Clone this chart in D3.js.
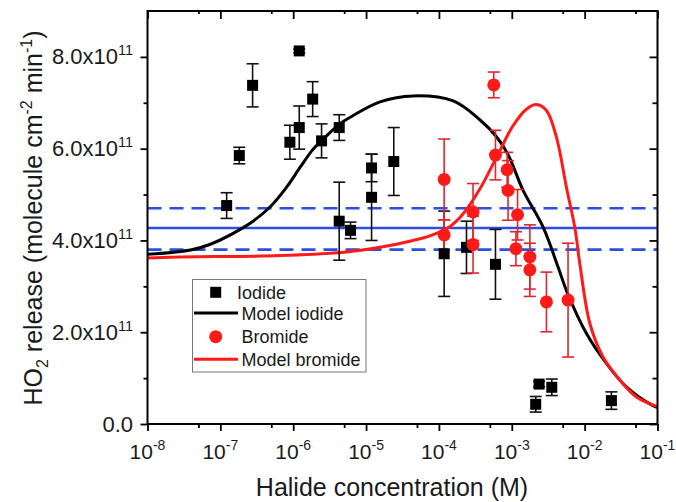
<!DOCTYPE html>
<html>
<head>
<meta charset="utf-8">
<script src="https://cdn.jsdelivr.net/npm/d3@7"></script>
<style>
body { margin:0; background:#ffffff; }
text { font-family:"Liberation Sans", Arial, sans-serif; fill:#1a1a1a; }
</style>
</head>
<body>
<svg id="chart" width="676" height="502"></svg>
<script>

// measured points (HO2 release, molecule cm-2 min-1)
var iodideConc = [1.22e-7, 1.82e-7, 2.77e-7, 1.21e-6, 9.0e-7, 1.21e-6, 1.85e-6, 2.45e-6, 4.28e-6, 4.28e-6, 6.12e-6,
	1.19e-5, 1.19e-5, 2.40e-5, 1.18e-4, 2.39e-4, 5.97e-4, 2.13e-3, 2.37e-3, 3.54e-3, 2.33e-2];
var iodideHO2 = [4.76e11, 5.85e11, 7.38e11, 8.13e11, 6.14e11, 6.46e11, 7.08e11, 6.17e11, 6.46e11, 4.42e11, 4.22e11,
	5.58e11, 4.94e11, 5.72e11, 3.71e11, 3.85e11, 3.48e11, 0.43e11, 0.87e11, 0.80e11, 0.51e11];
var iodideErr = [0.28e11, 0.18e11, 0.47e11, 0.04e11, 0.37e11, 0.47e11, 0.38e11, 0.37e11, 0.28e11, 0.85e11, 0.18e11,
	0.30e11, 0.94e11, 0.74e11, 0.93e11, 0.57e11, 0.76e11, 0.17e11, 0.06e11, 0.18e11, 0.19e11];

var bromideConc = [5.66e-4, 1.18e-4, 1.18e-4, 2.94e-4, 2.94e-4, 5.97e-4, 8.63e-4, 8.89e-4, 1.20e-3, 1.14e-3,
	1.77e-3, 1.77e-3, 2.99e-3, 5.92e-3];
var bromideHO2 = [7.39e11, 5.33e11, 4.12e11, 4.62e11, 3.91e11, 5.86e11, 5.54e11, 5.09e11, 4.56e11, 3.82e11,
	3.64e11, 3.36e11, 2.66e11, 2.70e11];
var bromideErr = [0.28e11, 0.88e11, 0.33e11, 0.62e11, 0.62e11, 0.54e11, 0.38e11, 0.65e11, 0.55e11, 0.37e11,
	0.70e11, 0.58e11, 0.65e11, 1.24e11];

// model curves
var modelIodideConc = [1e-8, 5.25e-8, 2.06e-7, 4.54e-7, 8.11e-7, 1.24e-6, 1.88e-6, 2.87e-6, 4.37e-6, 6.0e-6,
	1.55e-5, 4.43e-5, 1.57e-4, 3.64e-4, 6.17e-4, 8.89e-4, 1.43e-3, 2.69e-3, 4.32e-3, 5.62e-3, 1.06e-2, 1.99e-2,
	3.74e-2, 8.67e-2, 1e-1];
var modelIodideHO2 = [3.70e11, 3.84e11, 4.28e11, 4.69e11, 5.16e11, 5.59e11, 5.99e11, 6.28e11, 6.54e11, 6.68e11,
	7.02e11, 7.15e11, 7.04e11, 6.63e11, 6.26e11, 5.87e11, 5.09e11, 4.29e11, 3.42e11, 2.91e11, 1.97e11, 1.32e11,
	0.81e11, 0.40e11, 0.36e11];
var modelBromideConc = [1e-8, 2.79e-8, 6.57e-7, 5.40e-6, 1.55e-5, 4.43e-5, 7.50e-5, 1.41e-4, 2.15e-4, 3.64e-4, 6.17e-4,
	1.04e-3, 1.59e-3, 2.18e-3, 2.99e-3, 4.10e-3, 5.62e-3, 7.35e-3, 8.57e-3, 1.18e-2, 1.79e-2, 3.03e-2, 5.14e-2, 1e-1];
var modelBromideHO2 = [3.62e11, 3.64e11, 3.67e11, 3.75e11, 3.85e11, 4.00e11, 4.10e11, 4.30e11, 4.58e11, 5.12e11, 5.81e11,
	6.50e11, 6.86e11, 6.96e11, 6.83e11, 6.25e11, 5.16e11, 4.27e11, 3.50e11, 2.19e11, 1.46e11, 0.96e11, 0.59e11, 0.38e11];

// blue reference lines: mean and band
var meanHO2 = 4.27e11;
var bandHO2 = [3.80e11, 4.70e11];

var yMajor = [0, 2e11, 4e11, 6e11, 8e11];
var yMinor = [1e11, 3e11, 5e11, 7e11];
var yLabels = ["0.0", "2.0x10", "4.0x10", "6.0x10", "8.0x10"];
var xExponents = [-8, -7, -6, -5, -4, -3, -2, -1];
var xMinor = [5e-8, 5e-7, 5e-6, 5e-5, 5e-4, 5e-3, 5e-2];

var legendItems = ["Iodide", "Model iodide", "Bromide", "Model bromide"];

var svg = d3.select("#chart");
var pLeft = 147.5, pRight = 657.5, pTop = 11, pBottom = 424;

var x = d3.scaleLog().domain([1e-8, 1e-1]).range([pLeft, pRight]);
var y = d3.scaleLinear().domain([0, 9e11]).range([pBottom, pTop]);
var xMajor = xExponents.map(function(e) { return Math.pow(10, e); });

var BLUE = "#2b4fe0", RED = "#ff1a1a", REDBAR = "#e0262b";

// blue lines
svg.append("line").attr("x1", pLeft).attr("x2", pRight).attr("y1", y(meanHO2)).attr("y2", y(meanHO2))
	.attr("stroke", BLUE).attr("stroke-width", 2.6);
svg.selectAll(".band").data(bandHO2).enter().append("line").attr("class", "band")
	.attr("x1", pLeft).attr("x2", pRight).attr("y1", function(d) { return y(d); }).attr("y2", function(d) { return y(d); })
	.attr("stroke", BLUE).attr("stroke-width", 2.6).attr("stroke-dasharray", "14,8");

// model lines
var line = d3.line().curve(d3.curveCatmullRom.alpha(0.5)).x(function(d) { return x(d[0]); }).y(function(d) { return y(d[1]); });
svg.append("path").attr("d", line(d3.zip(modelIodideConc, modelIodideHO2)))
	.attr("fill", "none").attr("stroke", "#000").attr("stroke-width", 3);
svg.append("path").attr("d", line(d3.zip(modelBromideConc, modelBromideHO2)))
	.attr("fill", "none").attr("stroke", RED).attr("stroke-width", 3);

// error bars
function errorBars(conc, val, err, color) {
	var g = svg.append("g").attr("stroke", color).attr("stroke-width", 1.6);
	conc.forEach(function(c, i) {
		var cx = x(c), y1 = y(val[i] - err[i]), y2 = y(val[i] + err[i]);
		g.append("line").attr("x1", cx).attr("x2", cx).attr("y1", y1).attr("y2", y2);
		g.append("line").attr("x1", cx - 6).attr("x2", cx + 6).attr("y1", y1).attr("y2", y1);
		g.append("line").attr("x1", cx - 6).attr("x2", cx + 6).attr("y1", y2).attr("y2", y2);
	});
}
errorBars(iodideConc, iodideHO2, iodideErr, "#111");
errorBars(bromideConc, bromideHO2, bromideErr, REDBAR);

svg.selectAll(".sq").data(d3.zip(iodideConc, iodideHO2)).enter().append("rect").attr("class", "sq")
	.attr("x", function(d) { return x(d[0]) - 5.5; }).attr("y", function(d) { return y(d[1]) - 5.5; })
	.attr("width", 11).attr("height", 11).attr("fill", "#000");
svg.selectAll(".dot").data(d3.zip(bromideConc, bromideHO2)).enter().append("circle").attr("class", "dot")
	.attr("cx", function(d) { return x(d[0]); }).attr("cy", function(d) { return y(d[1]); })
	.attr("r", 6.5).attr("fill", RED);

// axes (ticks only, labels drawn separately)
function ticks(axis, vals, size, tx, ty) {
	var g = svg.append("g").attr("transform", "translate(" + tx + "," + ty + ")")
		.call(axis.tickValues(vals).tickSize(size).tickFormat(""));
	g.select(".domain").remove();
	g.selectAll(".tick line").attr("stroke", "#000").attr("stroke-width", 1.8);
	return g;
}
ticks(d3.axisLeft(y), yMajor, 7, pLeft, 0);
ticks(d3.axisLeft(y), yMinor, 4, pLeft, 0);
ticks(d3.axisLeft(y), yMajor, 8, pRight, 0);
ticks(d3.axisLeft(y), yMinor, 5, pRight, 0);
ticks(d3.axisBottom(x), xMajor, 7, 0, pBottom);
ticks(d3.axisBottom(x), xMinor, 4, 0, pBottom);
ticks(d3.axisBottom(x), xMajor, 8, 0, pTop);
ticks(d3.axisBottom(x), xMinor, 3, 0, pTop);

svg.append("rect").attr("x", pLeft).attr("y", pTop).attr("width", pRight - pLeft).attr("height", pBottom - pTop)
	.attr("fill", "none").attr("stroke", "#000").attr("stroke-width", 2);

// y tick labels
yMajor.forEach(function(v, i) {
	var t = svg.append("text").attr("x", 133).attr("y", y(v) + 7.5).attr("text-anchor", "end").style("font-size", "22px");
	t.append("tspan").text(yLabels[i]);
	if (v > 0) t.append("tspan").attr("dy", -9).style("font-size", "14.5px").text("11");
});
// x tick labels
xExponents.forEach(function(e, i) {
	var t = svg.append("text").attr("x", x(xMajor[i])).attr("y", 459).attr("text-anchor", "middle").style("font-size", "21px");
	t.append("tspan").text("10");
	t.append("tspan").attr("dy", -9).style("font-size", "14px").text("-" + (-e));
});

// axis titles
svg.append("text").attr("x", 392).attr("y", 496).attr("text-anchor", "middle").style("font-size", "25px")
	.text("Halide concentration (M)");
var yt = svg.append("text").attr("transform", "translate(42,218) rotate(-90)").attr("text-anchor", "middle")
	.style("font-size", "25px");
yt.append("tspan").text("HO");
yt.append("tspan").attr("dy", 6).style("font-size", "16px").text("2");
yt.append("tspan").attr("dy", -6).text(" release (molecule cm");
yt.append("tspan").attr("dy", -10).style("font-size", "16px").text("-2");
yt.append("tspan").attr("dy", 10).text(" min");
yt.append("tspan").attr("dy", -10).style("font-size", "16px").text("-1");
yt.append("tspan").attr("dy", 10).text(")");

// legend
var lg = svg.append("g");
lg.append("rect").attr("x", 192.5).attr("y", 279.5).attr("width", 173.5).attr("height", 92.5)
	.attr("fill", "#fff").attr("stroke", "#777").attr("stroke-width", 1);
var rowY = [292.3, 313, 336.7, 359.3];
lg.append("rect").attr("x", 210.2).attr("y", rowY[0] - 5.5).attr("width", 11).attr("height", 11).attr("fill", "#000");
lg.append("line").attr("x1", 194).attr("x2", 238).attr("y1", rowY[1]).attr("y2", rowY[1]).attr("stroke", "#000").attr("stroke-width", 3);
lg.append("circle").attr("cx", 215.7).attr("cy", rowY[2]).attr("r", 6.5).attr("fill", RED);
lg.append("line").attr("x1", 194).attr("x2", 238).attr("y1", rowY[3]).attr("y2", rowY[3]).attr("stroke", RED).attr("stroke-width", 3);
legendItems.forEach(function(s, i) {
	lg.append("text").attr("x", i == 0 ? 237 : 241.5).attr("y", rowY[i] + 6.5).style("font-size", "18px").text(s);
});
</script>
</body>
</html>
